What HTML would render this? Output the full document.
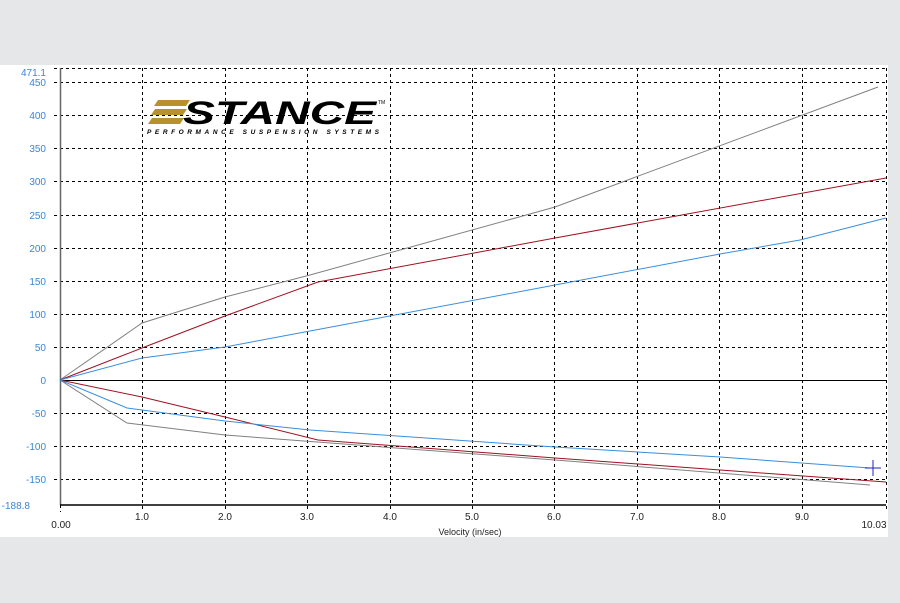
<!DOCTYPE html><html><head><style>body{margin:0;background:#e6e7e8}</style></head><body>
<svg width="900" height="598" xmlns="http://www.w3.org/2000/svg" font-family="Liberation Sans, sans-serif">
<rect x="0" y="0" width="900" height="598" fill="#e6e7e8"/>
<rect x="0" y="65" width="888" height="472" fill="#fff"/>
<g stroke="#000" stroke-width="1" stroke-dasharray="3,3" shape-rendering="crispEdges">
<line x1="54" y1="68.5" x2="886" y2="68.5"/>
<line x1="54" y1="82.5" x2="886" y2="82.5"/><line x1="54" y1="115.5" x2="886" y2="115.5"/><line x1="54" y1="148.5" x2="886" y2="148.5"/><line x1="54" y1="181.5" x2="886" y2="181.5"/><line x1="54" y1="215.5" x2="886" y2="215.5"/><line x1="54" y1="248.5" x2="886" y2="248.5"/><line x1="54" y1="281.5" x2="886" y2="281.5"/><line x1="54" y1="314.5" x2="886" y2="314.5"/><line x1="54" y1="347.5" x2="886" y2="347.5"/><line x1="54" y1="413.5" x2="886" y2="413.5"/><line x1="54" y1="446.5" x2="886" y2="446.5"/><line x1="54" y1="479.5" x2="886" y2="479.5"/>
<line x1="142.5" y1="68" x2="142.5" y2="510"/><line x1="225.5" y1="68" x2="225.5" y2="510"/><line x1="307.5" y1="68" x2="307.5" y2="510"/><line x1="390.5" y1="68" x2="390.5" y2="510"/><line x1="472.5" y1="68" x2="472.5" y2="510"/><line x1="554.5" y1="68" x2="554.5" y2="510"/><line x1="637.5" y1="68" x2="637.5" y2="510"/><line x1="719.5" y1="68" x2="719.5" y2="510"/><line x1="802.5" y1="68" x2="802.5" y2="510"/><line x1="886.5" y1="68" x2="886.5" y2="510"/>
<line x1="60.5" y1="505" x2="60.5" y2="512"/>
</g>
<line x1="60.5" y1="68" x2="60.5" y2="505" stroke="#666" stroke-width="1.5"/>
<line x1="60" y1="505" x2="886" y2="505" stroke="#000" stroke-width="1.5"/>
<line x1="60" y1="380.5" x2="886" y2="380.5" stroke="#000" stroke-width="1"/>
<g fill="none" stroke-width="1">
<polyline stroke="#808080" points="60,380 142,323 225,297 310,275 555,207 878,87"/>
<polyline stroke="#a01020" points="60,380 142,348 225,316 318,282 555,238 886,178"/>
<polyline stroke="#3a8ee0" points="60,380 142,358 225,347 310,331 555,285 720,254 800,240 886,218"/>
<polyline stroke="#808080" points="60,380 127,423 225,435 555,460 870,485"/>
<polyline stroke="#a01020" points="60,380 142,397 225,417 318,440 555,458 886,482"/>
<polyline stroke="#3a8ee0" points="60,380 127,408 225,421 310,430 555,447 720,457 870,468"/>
<path d="M873 460V476M865 468H881" stroke="#2020c0"/>
</g>
<g fill="#3a86d6" font-size="10" text-anchor="end">
<text x="46" y="76">471.1</text>
<text x="46" y="86">450</text><text x="46" y="119">400</text><text x="46" y="152">350</text><text x="46" y="185">300</text><text x="46" y="219">250</text><text x="46" y="252">200</text><text x="46" y="285">150</text><text x="46" y="318">100</text><text x="46" y="351">50</text><text x="46" y="384">0</text><text x="46" y="417">-50</text><text x="46" y="450">-100</text><text x="46" y="483">-150</text><text x="30" y="509">-188.8</text>
</g>
<g fill="#222" font-size="10" text-anchor="middle">
<text x="61" y="528">0.00</text><text x="142" y="520">1.0</text><text x="225" y="520">2.0</text><text x="307" y="520">3.0</text><text x="390" y="520">4.0</text><text x="472" y="520">5.0</text><text x="554" y="520">6.0</text><text x="637" y="520">7.0</text><text x="719" y="520">8.0</text><text x="802" y="520">9.0</text><text x="874" y="528">10.03</text>
<text x="470" y="535" font-size="9">Velocity (in/sec)</text>
</g>
<g fill="#b8902e">
<polygon points="158,100 190,100 186,106 154,106"/><polygon points="155,109 187,109 183,115 151,115"/><polygon points="152,118 184,118 180,124 148,124"/>
</g>
<text x="183" y="124" font-size="32" font-weight="bold" font-style="italic" fill="#000" textLength="193" lengthAdjust="spacingAndGlyphs">STANCE</text>
<text x="378" y="104" font-size="5" fill="#000">TM</text>
<text x="147" y="134" font-size="6.5" font-weight="bold" font-style="italic" fill="#000" textLength="232" lengthAdjust="spacing">PERFORMANCE SUSPENSION SYSTEMS</text>
</svg>
</body></html>
